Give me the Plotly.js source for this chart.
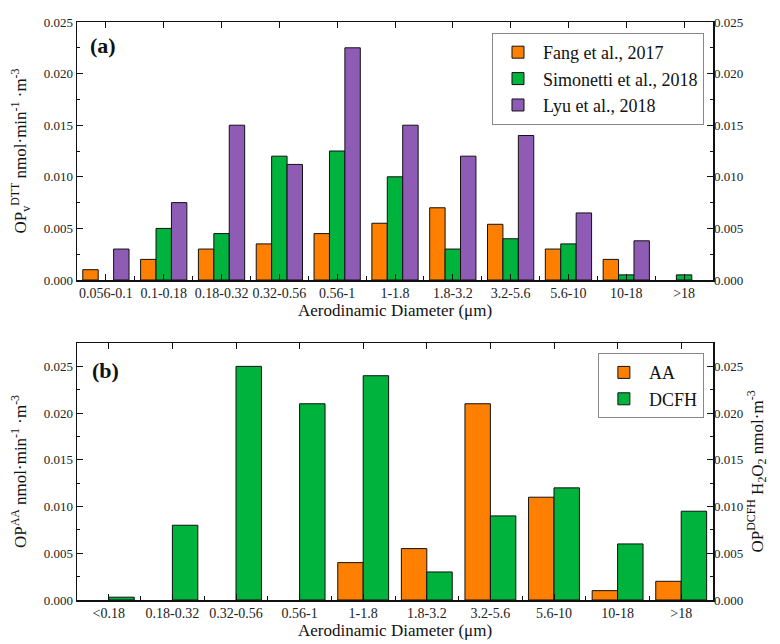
<!DOCTYPE html>
<html>
<head>
<meta charset="utf-8">
<script src="https://cdn.plot.ly/plotly-3.0.1.min.js"></script>
<style>html,body{margin:0;padding:0;background:#fff;}#chart{width:780px;height:644px;}</style>
</head>
<body>
<div id="chart"></div>
<script>
// ---- Data ----
const sizeBinsA = ['0.056-0.1','0.1-0.18','0.18-0.32','0.32-0.56','0.56-1','1-1.8','1.8-3.2','3.2-5.6','5.6-10','10-18','>18'];
const fang2017 = [0.001, 0.002, 0.003, 0.0035, 0.0045, 0.0055, 0.007, 0.0054, 0.003, 0.002, null];
const simonetti2018 = [null, 0.005, 0.0045, 0.012, 0.0125, 0.010, 0.003, 0.004, 0.0035, 0.0005, 0.0005];
const lyu2018 = [0.003, 0.0075, 0.015, 0.0112, 0.0225, 0.015, 0.012, 0.014, 0.0065, 0.0038, null];

const sizeBinsB = ['<0.18','0.18-0.32','0.32-0.56','0.56-1','1-1.8','1.8-3.2','3.2-5.6','5.6-10','10-18','>18'];
const opAA = [null, null, null, null, 0.004, 0.0055, 0.021, 0.011, 0.001, 0.002];
const opDCFH = [0.0003, 0.008, 0.025, 0.021, 0.024, 0.003, 0.009, 0.012, 0.006, 0.0095];

const seriesNamesA = ['Fang et al., 2017', 'Simonetti et al., 2018', 'Lyu et al., 2018'];
const seriesNamesB = ['AA', 'DCFH'];

// ---- Style ----
const ORANGE = '#FF8000', GREEN = '#00B33C', PURPLE = '#8E5CB5';
const FONT = 'Liberation Serif';
const outline = {color: '#111', width: 1};

const traces = [
  {type:'bar', x:sizeBinsA, y:fang2017, name:seriesNamesA[0], marker:{color:ORANGE, line:outline}, xaxis:'x', yaxis:'y', legend:'legend'},
  {type:'bar', x:sizeBinsA, y:simonetti2018, name:seriesNamesA[1], marker:{color:GREEN, line:outline}, xaxis:'x', yaxis:'y', legend:'legend'},
  {type:'bar', x:sizeBinsA, y:lyu2018, name:seriesNamesA[2], marker:{color:PURPLE, line:outline}, xaxis:'x', yaxis:'y', legend:'legend'},
  {type:'bar', x:sizeBinsB, y:opAA, name:seriesNamesB[0], marker:{color:ORANGE, line:outline}, xaxis:'x2', yaxis:'y2', legend:'legend2', offsetgroup:'b1'},
  {type:'bar', x:sizeBinsB, y:opDCFH, name:seriesNamesB[1], marker:{color:GREEN, line:outline}, xaxis:'x2', yaxis:'y2', legend:'legend2', offsetgroup:'b2'},
  // empty helper traces so the overlay axes (right y ticks, centre x ticks) are drawn
  {type:'scatter', mode:'markers', x:[], y:[], xaxis:'x3', yaxis:'y3', showlegend:false, hoverinfo:'skip'},
  {type:'scatter', mode:'markers', x:[], y:[], xaxis:'x4', yaxis:'y4', showlegend:false, hoverinfo:'skip'}
];

function tickFont(sz) { return {family: FONT, size: sz, color: '#222'}; }
const titleFont = {family: FONT, size: 17, color: '#111'};

function catAxis(anchor, n) {
  return {
    type:'category', anchor: anchor, range:[-0.5, n-0.5], tickangle:0,
    showline:true, linecolor:'#111', linewidth:1.5, mirror:true,
    ticks:'inside', tickson:'boundaries', ticklen:4, tickcolor:'#111',
    tickfont: tickFont(14), showgrid:false, zeroline:false,
    title:{text:'Aerodinamic Diameter (μm)', font:titleFont, standoff:3}
  };
}
function centerTickAxis(overlay, anchor, n) {
  return {
    overlaying: overlay, anchor: anchor, side:'bottom', type:'linear', range:[-0.5, n-0.5],
    tick0:0, dtick:1, ticks:'inside', ticklen:6, tickcolor:'#111', mirror:'ticks',
    showticklabels:false, showgrid:false, zeroline:false, showline:false
  };
}
function valAxis(domain, anchor, maxV, titleText) {
  return {
    domain: domain, anchor: anchor, range:[0, maxV], dtick:0.005, tickformat:'.3f',
    showline:true, linecolor:'#111', linewidth:1.5, mirror:true,
    ticks:'inside', ticklen:6, tickcolor:'#111', tickfont: tickFont(13),
    minor:{ticks:'inside', ticklen:3, dtick:0.0025, tickcolor:'#111', showgrid:false},
    showgrid:false, zeroline:false,
    title:{text:titleText, font:titleFont, standoff:12}
  };
}
function rightAxis(overlay, anchor, maxV, titleText) {
  const ax = {
    overlaying: overlay, anchor: anchor, side:'right', range:[0, maxV], dtick:0.005, tickformat:'.3f',
    ticks:'inside', ticklen:6, tickcolor:'#111', tickfont: tickFont(13),
    minor:{ticks:'inside', ticklen:3, dtick:0.0025, tickcolor:'#111', showgrid:false},
    showline:false, showgrid:false, zeroline:false
  };
  if (titleText) ax.title = {text:titleText, font:titleFont, standoff:8};
  return ax;
}

const layout = {
  width:780, height:644,
  paper_bgcolor:'#fff', plot_bgcolor:'#fff',
  margin:{l:77, r:67, t:22, b:44},
  font:{family:FONT, color:'#111'},
  showlegend:true,
  barmode:'group', bargap:0.2,
  xaxis: catAxis('y', sizeBinsA.length),
  yaxis: valAxis([0.5536, 1], 'x', 0.025, 'OP<sub>v</sub><sup>DTT</sup> nmol·min<sup>-1</sup> ·m<sup>-3</sup>'),
  xaxis2: catAxis('y2', sizeBinsB.length),
  yaxis2: valAxis([0, 0.4446], 'x2', 0.0275, 'OP<sup>AA</sup> nmol·min<sup>-1</sup> ·m<sup>-3</sup>'),
  xaxis3: centerTickAxis('x', 'y', sizeBinsA.length),
  xaxis4: centerTickAxis('x2', 'y2', sizeBinsB.length),
  yaxis3: rightAxis('y', 'x', 0.025, ''),
  yaxis4: rightAxis('y2', 'x2', 0.0275, 'OP<sup>DCFH</sup> H<sub>2</sub>O<sub>2</sub> nmol·m<sup>-3</sup>'),
  legend:{x:0.6525, y:0.981, xanchor:'left', yanchor:'top', xref:'paper', yref:'paper',
    bgcolor:'#fff', bordercolor:'#888', borderwidth:1, font:{family:FONT, size:18, color:'#111'},
    traceorder:'normal', itemwidth:40},
  legend2:{x:0.819, y:0.427, xanchor:'left', yanchor:'top', xref:'paper', yref:'paper',
    bgcolor:'#fff', bordercolor:'#888', borderwidth:1, font:{family:FONT, size:18, color:'#111'},
    traceorder:'normal', itemwidth:40},
  annotations:[
    {text:'<b>(a)</b>', xref:'x domain', yref:'y domain', x:0.017, y:0.91, xanchor:'left', yanchor:'middle', showarrow:false, font:{family:FONT, size:22, color:'#111'}},
    {text:'<b>(b)</b>', xref:'x2 domain', yref:'y2 domain', x:0.02, y:0.895, xanchor:'left', yanchor:'middle', showarrow:false, font:{family:FONT, size:22, color:'#111'}}
  ]
};

Plotly.newPlot('chart', traces, layout, {displayModeBar:false, staticPlot:true});
</script>
</body>
</html>
